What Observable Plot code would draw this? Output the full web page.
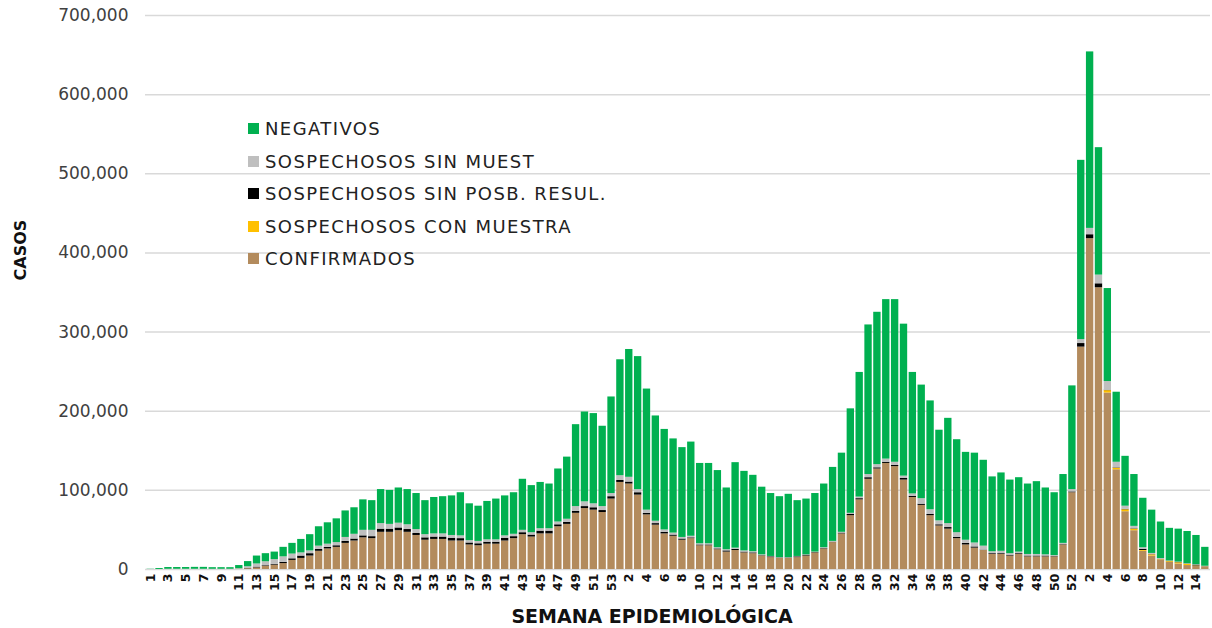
<!DOCTYPE html>
<html><head><meta charset="utf-8">
<script src="https://cdn.jsdelivr.net/npm/d3@7"></script>
<script src="https://cdn.jsdelivr.net/npm/@observablehq/plot@0.6"></script>
<style>
body{margin:0;background:#fff;}
#wrap{position:relative;width:1212px;height:628px;font-family:"DejaVu Sans",sans-serif;overflow:hidden;}
#wrap svg{position:absolute;left:0;top:0;}
.ttl{position:absolute;font-weight:bold;color:#111;white-space:nowrap;}
.leg{position:absolute;left:248px;height:20px;display:flex;align-items:center;font-size:18px;letter-spacing:1.4px;color:#222;white-space:nowrap;}
.leg i{display:inline-block;width:11px;height:11px;margin-right:6px;}
</style></head><body><div id="wrap"></div>
<script>
// Week labels (2020: 1-53, 2021: 1-52, 2022: 1-15)
const weekLabels = [
 1,2,3,4,5,6,7,8,9,10,11,12,13,14,15,16,17,18,19,20,21,22,23,24,25,26,27,28,29,30,31,32,33,34,35,36,37,38,39,40,41,42,43,44,45,46,47,48,49,50,51,52,53,
 1,2,3,4,5,6,7,8,9,10,11,12,13,14,15,16,17,18,19,20,21,22,23,24,25,26,27,28,29,30,31,32,33,34,35,36,37,38,39,40,41,42,43,44,45,46,47,48,49,50,51,52,
 1,2,3,4,5,6,7,8,9,10,11,12,13,14,15
];
const yTicks = [0,100000,200000,300000,400000,500000,600000,700000];

const seriesNames = ["CONFIRMADOS","SOSPECHOSOS CON MUESTRA","SOSPECHOSOS SIN POSB. RESUL.","SOSPECHOSOS SIN MUEST","NEGATIVOS"];
const seriesColors = ["#B38B5D","#FFC000","#000000","#BFBFBF","#00B050"];

// values in thousands of cases
const confirmados = [
 0,0,0,0,0,0,0,0,0,0, 0.5,1,2,4,5.5,7.5,11.5,14,17,23, 26,28,33,36,40,39,47,47,49,47, 43,37,38,38,36,36,31,30,32,32, 36,39,44,41,45,45,54,57,71,77, 75,72,89,
 110,108,94,69,56,45,42,37,39,30, 30,25,22,24,21,20,17,15,14,14, 15,17,21,26,34,45,68,88,114,127, 134,130,113,91,81,68,55,51,39,31, 27,24,19,19,17,19,16,16,16,16, 31,97,
 281,418,356,223,126,73,49,23,17,12,9,7,5,4,3
];
const conMuestra = [
 0,0,0,0,0,0,0,0,0,0, 0,0,0,0,0,0,0,0,0,0, 0,0,0,0,0,0,0,0,0,0, 0,0,0,0,0,0,0,0,0,0, 0,0,0,0,0,0,0,0,0,0, 0,0,0,
 0,0,0,0,0,0,0,0,0,0, 0,0,0,0,0,0,0,0,0,0, 0,0,0,0,0,0,0,0,0,0, 0,0,0,0,0,0,0,0,0,0, 0,0,0,0,0,0,0,0,0,0, 0,0,
 0,0,0,3,2,2.5,2,1,1.5,0.5,1,1.5,1.5,0.5,0.3
];
const sinPosbResul = [
 0,0,0,0,0,0,0,0,0,0, 0,0.5,1,0.8,1,1.5,2,3,3,2.5, 2,2,2.5,2.5,2.5,2.5,4,4,3.5,3.5, 2.5,3,3,3,3.5,3,2.5,2.5,2.5,2.5, 3.5,2.5,2.5,2.5,3.5,3.5,2.5,2.5,2.5,2.5, 3,2.5,3,
 2.5,2.5,3,2,2,2,1.5,1.5,1,1, 1,1,1.5,1.5,1,1,0.5,1,0.5,0.5, 1,1,0.5,0.5,0.5,1,1.5,1.5,2,1.5, 1.5,1.5,2,1.5,1.5,1.5,1.5,2,1.5,2, 1.5,0.5,1,1,1,1,1,1,1,0.5, 0.5,1,
 4.5,5,5,0.5,0.5,0.5,0.5,1.5,0.3,0.3,0.3,0.3,0.3,1,0.3
];
const sinMuest = [
 0,0,0.3,0.3,0.3,0.3,0.3,0.3,0.3,0.3, 0.5,2,4,5,6,7,6,4,3.5,4, 4,4,5,6,7,8,7,6,6,6, 5,4,4,4,3.5,3.5,3,3,3,3, 3,3,3,3,3,3,3.5,4,6,6, 5,5,4,
 6,6,4,4,3,3,2.5,2,2,1.5, 1.5,1.5,1.5,1.5,1.5,1.5,1,0.5,0.5,0.5, 0.5,0.5,0.5,1,1,1,1.5,2,4,4, 4,4,3,3,7,6,5,5,6,4, 5,5,2.5,3,2,2,2,2,1.5,1, 1.5,3,
 5,8,11,11,7,4,3,2,1.5,1,0.5,0.5,0.5,0.5,0.5
];
const negativos = [
 0.3,1.2,2.2,2.2,2.2,2.4,2.4,2.0,2.0,2.0, 4,6.5,10,10.2,9.5,12,13.5,17,20.5,24.5, 27,30,33.5,33.5,38.5,37.5,43,43,44.5,44.5, 45.5,43,46,47,50,54.5,46.5,44.5,48.5,51.5, 50.5,52.5,64.5,59.5,58.5,56.5,67,78.5,103.5,113.5, 114,101.5,122,
 146.5,161.5,168,153,133,127,119,113.5,119,101.5, 101.5,97.5,78,108,100.5,96.5,85.5,79.5,77,80, 70.5,70.5,74,80.5,93.5,100,132,157.5,189,192.5, 201.5,205.5,192,153.5,143.5,137.5,114.5,133,117.5,111, 113.5,108.5,94.5,99,93,94,89,92,84.5,79.5, 87,131,
 226.5,223,161,117.5,88.5,63,65.5,62.5,54.7,46.2,41.2,41.7,40.7,37,23.9
];

const seriesValues = [confirmados, conMuestra, sinPosbResul, sinMuest, negativos];
const rows = [];
weekLabels.forEach((w, i) => {
  seriesNames.forEach((s, k) => rows.push({i, serie: s, value: seriesValues[k][i] * 1000}));
});

const idx = weekLabels.map((_, i) => i);
const labeledIdx = idx.filter(i => i % 2 === 0);

const chart = Plot.plot({
  width: 1212, height: 628,
  marginLeft: 145, marginRight: 2, marginTop: 15, marginBottom: 59,
  style: {fontFamily: "DejaVu Sans", background: "transparent", overflow: "visible"},
  x: {type: "band", domain: idx, padding: 0.17, axis: null},
  y: {domain: [0, 700000], axis: null},
  color: {domain: seriesNames, range: seriesColors},
  marks: [
    Plot.gridY(yTicks, {stroke: "#d9d9d9", strokeOpacity: 1, strokeWidth: 1.5}),
    Plot.barY(rows, {x: "i", y: "value", fill: "serie", order: seriesNames}),
    Plot.axisY(yTicks, {tickSize: 0, tickPadding: 17, tickFormat: d3.format(","), fontSize: 17, color: "#404040", label: null}),
    Plot.axisX(labeledIdx, {tickFormat: i => String(weekLabels[i]), tickRotate: -90, tickSize: 0, tickPadding: 4, fontSize: 12.5, fontWeight: "bold", color: "#111", label: null})
  ]
});

const wrap = document.getElementById("wrap");
wrap.appendChild(chart);

const yT = document.createElement("div");
yT.className = "ttl"; yT.textContent = "CASOS";
yT.style.cssText = "left:20px;top:250px;font-size:16px;transform:translate(-50%,-50%) rotate(-90deg);";
wrap.appendChild(yT);

const xT = document.createElement("div");
xT.className = "ttl"; xT.textContent = "SEMANA EPIDEMIOLÓGICA";
xT.style.cssText = "left:652px;top:616px;font-size:19px;transform:translate(-50%,-50%);";
wrap.appendChild(xT);

const legendCenters = [128.5, 161, 193.5, 226, 258.5];
[...seriesNames].reverse().forEach((s, k) => {
  const d = document.createElement("div");
  d.className = "leg";
  d.style.top = (legendCenters[k] - 10) + "px";
  const sw = document.createElement("i");
  sw.style.background = seriesColors[seriesNames.indexOf(s)];
  d.appendChild(sw);
  d.appendChild(document.createTextNode(s));
  wrap.appendChild(d);
});
</script></body></html>
